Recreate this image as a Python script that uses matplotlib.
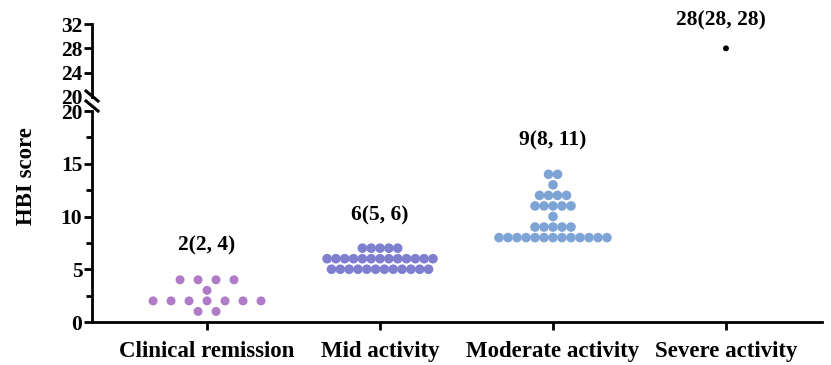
import numpy as np
import matplotlib
matplotlib.use('Agg')
import matplotlib.pyplot as plt
from matplotlib.ticker import MultipleLocator

plt.rcParams['font.family'] = 'Liberation Serif'
plt.rcParams['font.weight'] = 'bold'

# HBI scores
categories = ['Clinical remission', 'Mid activity', 'Moderate activity', 'Severe activity']
scores = {
    'Clinical remission': [1] * 2 + [2] * 7 + [3] * 1 + [4] * 4,
    'Mid activity': [5] * 12 + [6] * 13 + [7] * 5,
    'Moderate activity': [8] * 13 + [9] * 5 + [10] * 1 + [11] * 5 + [12] * 4 + [13] * 1 + [14] * 2,
    'Severe activity': [28],
}
summary = ['2(2, 4)', '6(5, 6)', '9(8, 11)', '28(28, 28)']
summary_y = [7.3, 10.1, 17.2, 32.65]
colors = ['#B07CC8', '#7E7FCF', '#7EA4D6', '#000000']
spacing = [0.104, 0.051, 0.052, 0.0]   # horizontal spread of the swarm, in category units
dot_size = [42, 48, 48, 18]


def swarm(vals, step):
    xs, ys = [], []
    vals = np.asarray(vals)
    for v in np.unique(vals):
        n = np.sum(vals == v)
        off = (np.arange(n) - (n - 1) / 2) * step
        xs.extend(off)
        ys.extend([v] * n)
    return np.array(xs), np.array(ys)


fig = plt.figure(figsize=(8.31, 3.65), dpi=100)
L, W = 92 / 831, 730 / 831
ax = fig.add_axes([L, 43 / 365, W, 211 / 365])        # 0 - 20
axt = fig.add_axes([L, 268 / 365, W, 73 / 365])       # 20 - 32

lw = 2.0
for a in (ax, axt):
    a.set_xlim(-0.665, 3.555)
    for s in ('top', 'right'):
        a.spines[s].set_visible(False)
    a.spines['left'].set_linewidth(lw)
    a.tick_params(axis='y', which='major', length=6, width=lw, labelsize=15.5, pad=1)
    a.tick_params(axis='y', which='minor', length=4, width=lw)

ax.spines['bottom'].set_linewidth(lw)
ax.set_ylim(0, 20)
ax.yaxis.set_major_locator(MultipleLocator(5))
ax.yaxis.set_minor_locator(MultipleLocator(2.5))
ax.set_xticks(range(len(categories)))
ax.set_xticklabels(categories, fontsize=16.5)
ax.tick_params(axis='x', length=6, width=lw, pad=8)
ax.set_ylabel('HBI score', fontsize=16.5, fontweight='bold')
ax.yaxis.set_label_coords(-0.075, 0.69)

axt.spines['bottom'].set_visible(False)
axt.set_ylim(20, 32)
axt.set_yticks([20, 24, 28, 32])
axt.set_xticks([])

fig.canvas.draw()
ax.yaxis.get_major_ticks()[-1].tick1line.set_visible(False)
ax.yaxis.get_minor_ticks()[-1].tick1line.set_visible(False)
axt.yaxis.get_major_ticks()[0].tick1line.set_visible(False)

for i, cat in enumerate(categories):
    target = axt if i == 3 else ax
    dx, ys = swarm(scores[cat], spacing[i])
    target.scatter(i + dx, ys, s=dot_size[i], color=colors[i], edgecolors='none',
                   zorder=3, clip_on=False)
    tx = i - 0.03 if i == 3 else i
    target.text(tx, summary_y[i], summary[i], ha='center', va='center',
                fontsize=15.5, fontweight='bold', clip_on=False)

# break marks on the y axis
x0 = L
for yc in (96, 106):
    yf = (365 - yc) / 365
    fig.add_artist(plt.Line2D([x0 - 6 / 831, x0 + 6 / 831], [yf + 5 / 365, yf - 5 / 365],
                              color='black', lw=2.2, transform=fig.transFigure))

fig.savefig('out.png', dpi=100)
